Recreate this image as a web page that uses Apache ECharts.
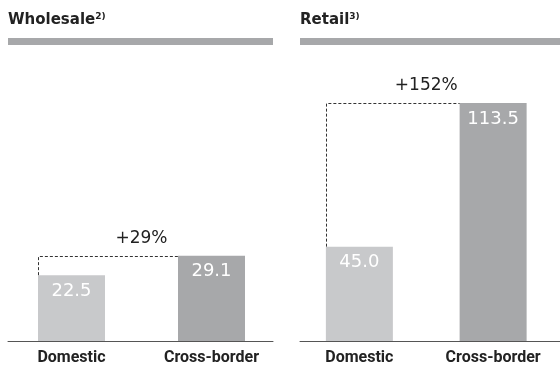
<!DOCTYPE html>
<html>
<head>
<meta charset="utf-8">
<script src="https://cdn.jsdelivr.net/npm/echarts@6/dist/echarts.min.js"></script>
<style>
  html, body { margin: 0; padding: 0; background: #fff; }
  #chart { width: 560px; height: 367px; }
</style>
</head>
<body>
<div id="chart"></div>
<script>
// Sales volume by channel: domestic vs. cross-border
const categories = ['Domestic', 'Cross-border'];
const wholesaleValues = [22.5, 29.1];
const retailValues = [45.0, 113.5];
const panelTitles = ['Wholesale', 'Retail'];
const footnoteMarks = ['2)', '3)'];
const growthLabels = ['+29%', '+152%'];

// Styling
const BAR_WIDTH = 67;
const COLORS = ['#c8c9cb', '#a7a8aa'];
const BAND_COLOR = '#a7a8aa';
const TEXT_COLOR = '#222';

const chart = echarts.init(document.getElementById('chart'), null, { renderer: 'canvas' });

// Dashed step from the domestic bar up to the cross-border level, with the growth label above
function connector(label) {
  return function (params, api) {
    const lo = api.value(1);
    const hi = api.value(2);
    const p0 = api.coord([0, lo]);
    const p1 = api.coord([1, hi]);
    const half = BAR_WIDTH / 2;
    const xL = Math.round(p0[0] - half) + 0.5;
    const xR = p1[0] - half;
    const yLo = p0[1];
    const yHi = Math.round(p1[1]) + 0.5;
    return {
      type: 'group',
      children: [
        {
          type: 'polyline',
          shape: { points: [[xL, yLo], [xL, yHi], [xR, yHi]] },
          style: { stroke: '#333', lineWidth: 1, lineDash: [3, 2], fill: null }
        },
        {
          type: 'text',
          x: (p0[0] - half + p1[0] + half) / 2,
          y: yHi - 18,
          style: {
            text: label,
            fill: TEXT_COLOR,
            font: '17px "DejaVu Sans"',
            align: 'center',
            verticalAlign: 'middle'
          }
        }
      ]
    };
  };
}

function barSeries(values, gridIdx) {
  return {
    type: 'bar',
    xAxisIndex: gridIdx,
    yAxisIndex: gridIdx,
    barWidth: BAR_WIDTH,
    data: values.map((v, i) => ({ value: v, itemStyle: { color: COLORS[i] } })),
    label: {
      show: true,
      position: 'insideTop',
      distance: 7,
      color: '#fff',
      fontFamily: 'DejaVu Sans',
      fontSize: 18,
      formatter: p => p.value.toFixed(1)
    }
  };
}

function connectorSeries(values, gridIdx, label) {
  return {
    type: 'custom',
    xAxisIndex: gridIdx,
    yAxisIndex: gridIdx,
    encode: { x: 0, y: [1, 2] },
    data: [[0, values[0], values[1]]],
    renderItem: connector(label),
    silent: true,
    z: 3
  };
}

const plotTop = 60;
const plotHeight = 281;

const mainXAxis = (gridIdx) => ({
  type: 'category',
  gridIndex: gridIdx,
  data: categories,
  axisLine: { show: false },
  axisTick: { show: false },
  axisLabel: {
    margin: 9,
    color: TEXT_COLOR,
    fontFamily: 'Roboto',
    fontWeight: 'bold',
    fontSize: 16
  }
});

const baseXAxis = (gridIdx) => ({
  type: 'category',
  gridIndex: gridIdx,
  data: ['', ''],
  axisLine: { show: true, lineStyle: { color: '#555', width: 1 } },
  axisTick: { show: false },
  axisLabel: { show: false }
});

const hiddenY = (gridIdx, max) => ({
  type: 'value',
  gridIndex: gridIdx,
  min: 0,
  max: max,
  show: false
});

const titleRich = {
  t: { fontFamily: 'DejaVu Sans', fontWeight: 'bold', fontSize: 15, color: TEXT_COLOR, lineHeight: 18 },
  s: { fontFamily: 'DejaVu Sans', fontWeight: 'bold', fontSize: 9, color: TEXT_COLOR, verticalAlign: 'top', lineHeight: 11, padding: [1, 0, 0, 0] }
};

const option = {
  animation: false,
  backgroundColor: '#fff',
  title: panelTitles.map((t, i) => ({
    text: `{t|${t}}{s|${footnoteMarks[i]}}`,
    left: [8, 300][i],
    top: 11,
    padding: 0,
    textStyle: { rich: titleRich }
  })),
  graphic: [
    { type: 'rect', shape: { x: 8, y: 38, width: 265, height: 7 }, style: { fill: BAND_COLOR } },
    { type: 'rect', shape: { x: 300, y: 38, width: 260, height: 7 }, style: { fill: BAND_COLOR } }
  ],
  grid: [
    { left: 1.5, width: 280, top: plotTop, height: plotHeight },
    { left: 292.5, width: 280, top: plotTop, height: plotHeight },
    { left: 8, width: 265, top: plotTop, height: plotHeight },
    { left: 300, width: 260, top: plotTop, height: plotHeight }
  ],
  xAxis: [mainXAxis(0), mainXAxis(1), baseXAxis(2), baseXAxis(3)],
  yAxis: [hiddenY(0, 96), hiddenY(1, 134), hiddenY(2, 1), hiddenY(3, 1)],
  series: [
    barSeries(wholesaleValues, 0),
    barSeries(retailValues, 1),
    connectorSeries(wholesaleValues, 0, growthLabels[0]),
    connectorSeries(retailValues, 1, growthLabels[1])
  ]
};

chart.setOption(option);
</script>
</body>
</html>
